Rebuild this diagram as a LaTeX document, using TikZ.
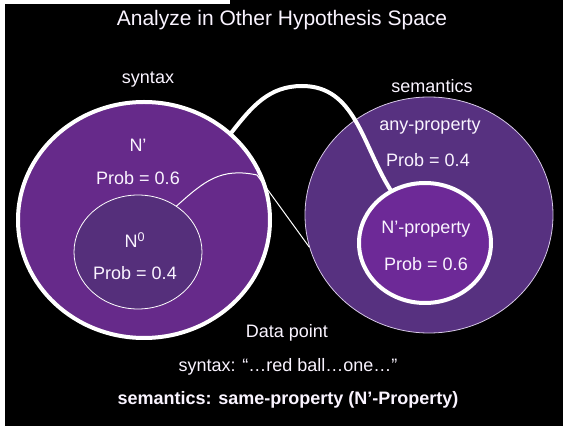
\documentclass[tikz,border=0pt]{standalone}
\usepackage{fontspec}
\setmainfont{Liberation Sans}
\usetikzlibrary{shapes.geometric}
\definecolor{fondsyn}{RGB}{102,42,138}
\definecolor{fondnzero}{RGB}{85,47,123}
\definecolor{fondsem}{RGB}{87,49,128}
\definecolor{fondnprop}{RGB}{109,41,151}
\definecolor{lavtext}{RGB}{250,244,255}
\definecolor{bordsem}{RGB}{214,200,230}

\begin{document}
\begin{tikzpicture}[line cap=round,line join=round,x=1pt,y=1pt,
    rond/.style={ellipse,inner sep=0pt,draw=white},
    texte/.style={text=lavtext,font=\fontsize{18}{20}\selectfont}]
			\useasboundingbox (0,0) rectangle (563,426);
			\fill[black] (0,0) rectangle (563,426);
			\fill[white] (0,0) rectangle (5,426);
			\fill[white] (0,422) rectangle (230,426);
			% Titre
			\node[texte,font=\fontsize{21}{24}\selectfont] (titre) at (282,406) {Analyze in Other Hypothesis Space};
			% Espace syntaxe
			\node[rond,fill=fondsyn,line width=4pt,minimum width=252,minimum height=236] (syn) at (144,206) {};
			\node[rond,fill=fondnzero,line width=0.8pt,minimum width=128,minimum height=114] (nzero) at (138,174) {};
			% Espace semantique
			\node[rond,fill=fondsem,draw=bordsem,line width=0.8pt,minimum width=248,minimum height=236] (sem) at (429,211) {};
			\node[rond,fill=fondnprop,line width=4pt,minimum width=132,minimum height=120] (nprop) at (425,183) {};
			% Liens
			\coordinate (sommet) at (302,340);
			\coordinate (coude) at (257,251);
			\draw[white,line width=4pt] (syn.45) to[out=52,in=180] (sommet) to[out=0,in=122] (nprop.123);
			\draw[white,line width=1pt] (nzero.50) to[out=42,in=168,looseness=1.1] (coude) -- (sem.195);
			% Etiquettes
			\node[texte] (synlab) at (148,346) {syntax};
			\node[texte] (semlab) at (432,340) {semantics};
			\node[texte] (nprime) at (138,281) {N’};
			\node[texte] (probsix) at (138,248) {Prob = 0.6};
			\node[texte] (nzerolab) at (135,186) {N\textsuperscript{0}};
			\node[texte] (probquatre) at (135,153) {Prob = 0.4};
			\node[texte] (anyprop) at (430,299) {any-property};
			\node[texte] (probany) at (428,266) {Prob = 0.4};
			\node[texte] (nproplab) at (426,197) {N’-property};
			\node[texte] (probnprop) at (426,162) {Prob = 0.6};
			% Donnee
			\node[texte] (donnee) at (287,93) {Data point};
			\node[texte] (donsyn) at (288,59) {syntax: “…red ball…one…”};
			\node[texte,font=\fontsize{18}{20}\selectfont\bfseries] (donsem) at (288,26) {semantics: same-property (N’-Property)};
	\end{tikzpicture}
\end{document}
